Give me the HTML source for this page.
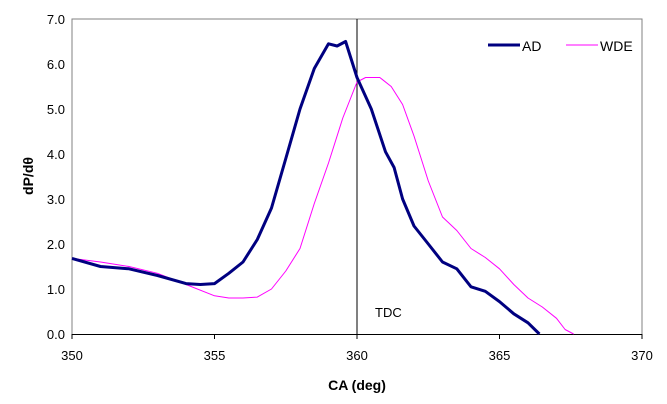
<!DOCTYPE html>
<html><head><meta charset="utf-8"><style>
html,body{margin:0;padding:0;background:#fff;}
svg{display:block;font-family:"Liberation Sans",Arial,sans-serif;}
</style></head><body>
<svg id="chart" width="667" height="404" viewBox="0 0 667 404"></svg>
<script>
const xTicks=[350,355,360,365,370];
const yTicks=[0,1,2,3,4,5,6,7];
const adX=[350,351,352,353,354,354.5,355,355.5,356,356.5,357,357.5,358,358.5,359,359.3,359.6,360,360.5,361,361.3,361.6,362,362.5,363,363.5,364,364.5,365,365.5,366,366.4];
const adY=[1.68,1.5,1.45,1.3,1.12,1.1,1.12,1.35,1.6,2.1,2.8,3.9,5.0,5.9,6.45,6.4,6.5,5.7,5.0,4.05,3.7,3.0,2.4,2.0,1.6,1.45,1.05,0.95,0.72,0.45,0.25,0.0];
const wdeX=[350,351,352,353,354,355,355.5,356,356.5,357,357.5,358,358.5,359,359.5,360,360.3,360.8,361.2,361.6,362,362.5,363,363.5,364,364.5,365,365.5,366,366.5,367,367.3,367.6];
const wdeY=[1.68,1.6,1.5,1.35,1.1,0.85,0.8,0.8,0.82,1.0,1.4,1.9,2.9,3.8,4.8,5.6,5.7,5.7,5.5,5.1,4.4,3.4,2.6,2.3,1.9,1.7,1.45,1.1,0.8,0.6,0.35,0.1,0.0];
const X0=72,X1=642,Y0=334,Y1=19;
function sx(v){return X0+(v-350)/20*(X1-X0);}
function sy(v){return Y0-v/7*(Y0-Y1);}
const svg=document.getElementById('chart');
const NS='http://www.w3.org/2000/svg';
function mk(t,a,p){const e=document.createElementNS(NS,t);for(const k in a)e.setAttribute(k,a[k]);(p||svg).appendChild(e);return e;}
let e;
e=mk('path',{d:`M${X0},${Y0}V${Y1}H${X1}V${Y0}`,fill:'none',stroke:'#808080','stroke-width':1});


e=mk('line',{x1:X0,y1:Y0+0.5,x2:X1,y2:Y0+0.5,stroke:'#000','stroke-width':1});


xTicks.forEach(v=>{
 mk('line',{x1:sx(v),y1:Y0,x2:sx(v),y2:Y0+5,stroke:'#000'});
 e=mk('text',{x:sx(v),y:Y0+26,'text-anchor':'middle','font-size':13,fill:'#000'});
 e.textContent=v;
 
 
});
yTicks.forEach(v=>{
 e=mk('text',{x:X0-7,y:sy(v)+5,'text-anchor':'end','font-size':13,fill:'#000'});
 e.textContent=v.toFixed(1);
 
 
});
e=mk('line',{x1:sx(360),y1:Y1,x2:sx(360),y2:Y0,stroke:'#000','stroke-width':1});


e=mk('text',{x:375,y:317,'font-size':13,fill:'#000'});e.textContent='TDC';


function line(xs,ys,col,w,name){
 const d=xs.map((x,i)=>(i?'L':'M')+sx(x).toFixed(1)+','+sy(ys[i]).toFixed(1)).join('');
 const p=mk('path',{d:d,fill:'none',stroke:col,'stroke-width':w,'stroke-linejoin':'round'});
 
 
}
line(wdeX,wdeY,'#ff00ff',1,'series-wde');
line(adX,adY,'#000080',3,'series-ad');
e=mk('line',{x1:488,y1:45,x2:520,y2:45,stroke:'#000080','stroke-width':3});


e=mk('text',{x:522,y:51,'font-size':14,fill:'#000'});e.textContent='AD';


e=mk('line',{x1:566,y1:45,x2:598,y2:45,stroke:'#ff00ff','stroke-width':1});


e=mk('text',{x:600,y:51,'font-size':14,fill:'#000'});e.textContent='WDE';


e=mk('text',{x:357,y:390,'text-anchor':'middle','font-size':14,'font-weight':'bold',fill:'#000'});e.textContent='CA (deg)';


e=mk('text',{x:0,y:0,'text-anchor':'middle','font-size':14,'font-weight':'bold',fill:'#000',transform:'translate(33,176) rotate(-90)'});e.textContent='dP/dθ';


</script>
</body></html>
